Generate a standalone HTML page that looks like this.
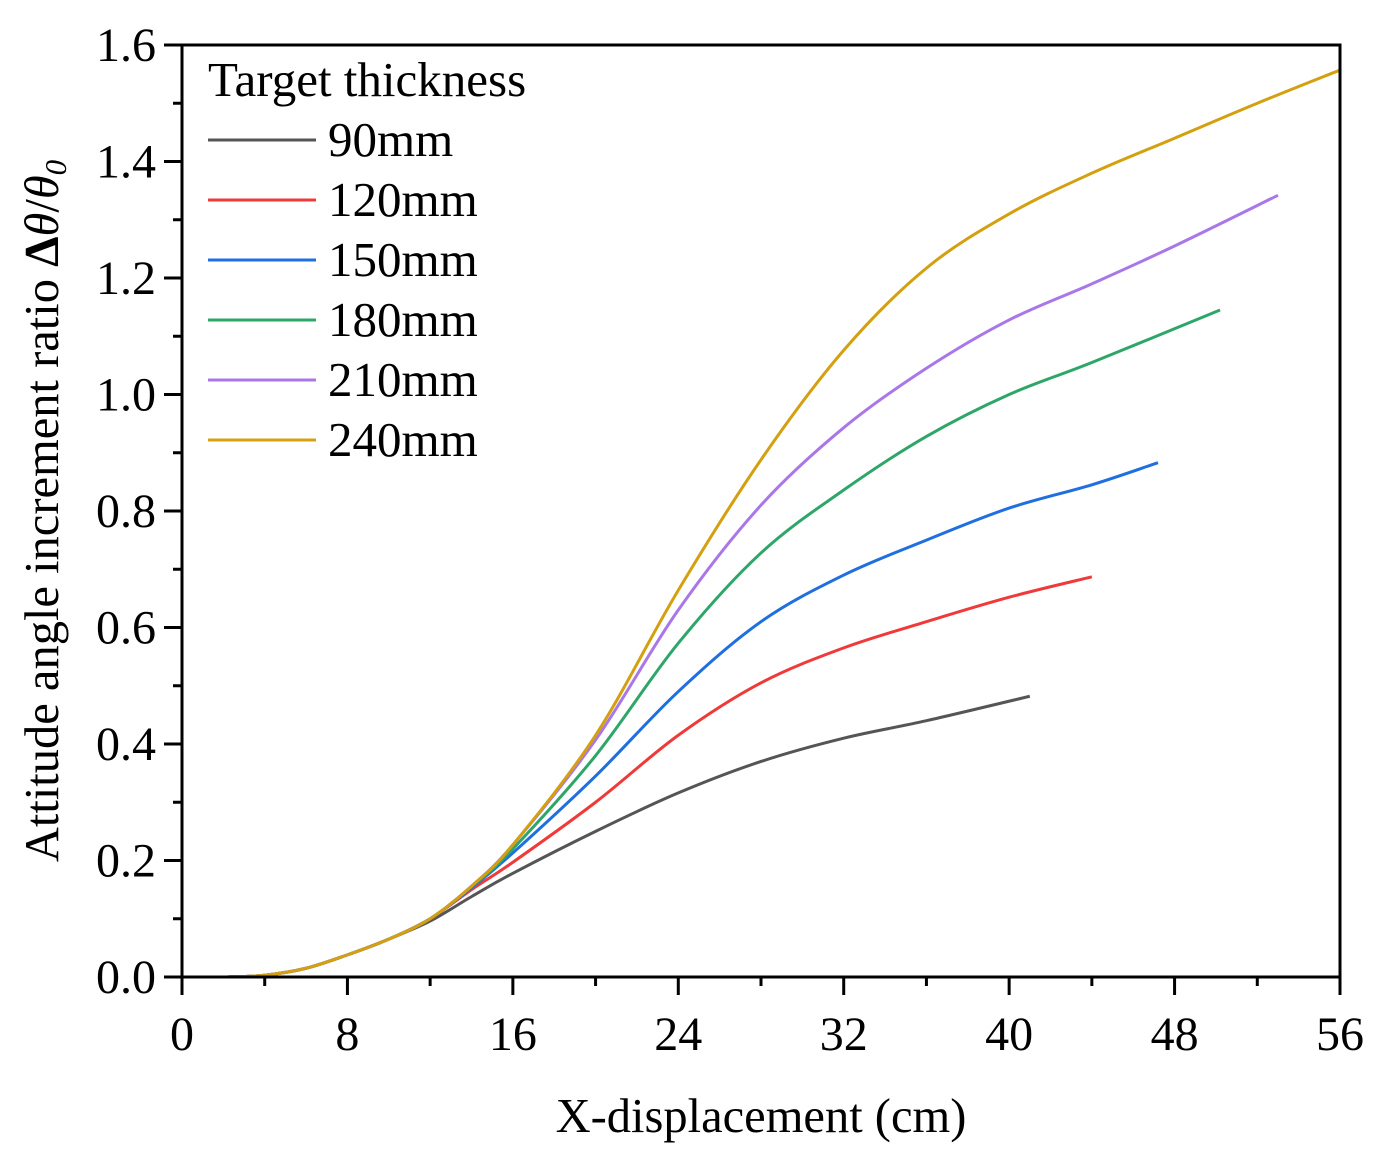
<!DOCTYPE html>
<html><head><meta charset="utf-8"><style>
body{margin:0;background:#fff}
svg{display:block;font-family:"Liberation Serif",serif}
</style></head><body>
<svg id="chart" width="1383" height="1157" viewBox="0 0 1383 1157" xmlns="http://www.w3.org/2000/svg"></svg>
<script>
const xTicks=[0,8,16,24,32,40,48,56];
const yTicks=[0.0,0.2,0.4,0.6,0.8,1.0,1.2,1.4,1.6];
const seriesNames=["90mm","120mm","150mm","180mm","210mm","240mm"];
const seriesColors=["#555555","#f03a3a","#1f6fe0","#2ea66a","#a977e8","#d4a010"];
const lowX=[2.2,4,6,8,10,12];
const lowY=[0,0.003,0.015,0.038,0.065,0.1];
const x90=[14,16,20,24,28,32,36,41];
const y90=[0.138,0.178,0.25,0.316,0.37,0.41,0.44,0.482];
const x120=[14,16,20,24,28,32,36,40,44];
const y120=[0.15,0.197,0.30,0.415,0.505,0.565,0.61,0.652,0.687];
const x150=[14,16,20,24,28,32,36,40,44,47.2];
const y150=[0.153,0.213,0.345,0.49,0.61,0.69,0.75,0.805,0.845,0.883];
const x180=[14,16,20,24,28,32,36,40,44,50.2];
const y180=[0.155,0.22,0.38,0.573,0.728,0.836,0.928,1.0,1.055,1.145];
const x210=[14,16,20,24,28,32,36,40,44,48,53];
const y210=[0.156,0.227,0.407,0.63,0.81,0.943,1.045,1.128,1.19,1.255,1.342];
const x240=[14,16,20,24,28,32,36,40,44,48,52,56];
const y240=[0.156,0.227,0.415,0.664,0.888,1.076,1.217,1.31,1.38,1.44,1.5,1.557];

const X0=182,X1=1340,Y0=977,Y1=45;
const sx=v=>X0+(v-0)/(56-0)*(X1-X0);
const sy=v=>Y0-(v-0)/(1.6-0)*(Y0-Y1);
const svg=document.getElementById('chart');
const NS="http://www.w3.org/2000/svg";
function mk(tag,attrs,parent){const e=document.createElementNS(NS,tag);for(const k in attrs)e.setAttribute(k,attrs[k]);(parent||svg).appendChild(e);return e;}

const xs=[x90,x120,x150,x180,x210,x240], ys=[y90,y120,y150,y180,y210,y240];
function path(pts){let d=`M${pts[0][0]},${pts[0][1]}`;for(let i=0;i<pts.length-1;i++){const p0=pts[Math.max(0,i-1)],p1=pts[i],p2=pts[i+1],p3=pts[Math.min(pts.length-1,i+2)];const c1=[p1[0]+(p2[0]-p0[0])/6,p1[1]+(p2[1]-p0[1])/6],c2=[p2[0]-(p3[0]-p1[0])/6,p2[1]-(p3[1]-p1[1])/6];d+=`C${c1[0]},${c1[1]} ${c2[0]},${c2[1]} ${p2[0]},${p2[1]}`;}return d;}
for(let s=0;s<6;s++){
  const pts=[];
  lowX.forEach((v,i)=>{let y=lowY[i];if(s===0&&v>=12)y*=0.96;pts.push([sx(v),sy(y)]);});
  xs[s].forEach((v,i)=>pts.push([sx(v),sy(ys[s][i])]));
  const p=mk('path',{d:path(pts),fill:'none',stroke:seriesColors[s],'stroke-width':3});
  
  
}

const f=mk('rect',{x:X0,y:Y1,width:X1-X0,height:Y0-Y1,fill:'none',stroke:'#000','stroke-width':3});


for(let v=0;v<=56;v+=4){const major=v%8===0;mk('line',{x1:sx(v),x2:sx(v),y1:Y0,y2:Y0+(major?18:9),stroke:'#000','stroke-width':3});}
xTicks.forEach(v=>{const t=mk('text',{x:sx(v),y:1050,'text-anchor':'middle','font-size':48});t.textContent=v;

});
for(let i=0;i<=16;i++){const v=i/10,major=i%2===0;mk('line',{x1:X0,x2:X0-(major?18:9),y1:sy(v),y2:sy(v),stroke:'#000','stroke-width':3});}
yTicks.forEach(v=>{const t=mk('text',{x:156,y:sy(v)+16,'text-anchor':'end','font-size':48});t.textContent=v.toFixed(1);

});
</script>
<svg style="position:absolute;left:0;top:0" width="1383" height="1157">
<text x="761" y="1132" text-anchor="middle" font-size="48.5" font-family="Liberation Serif">X-displacement (cm)</text>
<text transform="translate(58,511) rotate(-90)" text-anchor="middle" font-size="48.5" font-family="Liberation Serif">Attitude angle increment ratio <tspan font-weight="bold">Δ</tspan><tspan font-style="italic">θ</tspan>/<tspan font-style="italic">θ</tspan><tspan font-style="italic" font-size="31" dy="8">0</tspan></text>
<g font-family="Liberation Serif" font-size="49">
<text x="208" y="96">Target thickness</text>
<g><line x1="208" x2="316" y1="140" y2="140" stroke="#555555" stroke-width="3"/><text x="328" y="156">90mm</text></g>
<g><line x1="208" x2="316" y1="200" y2="200" stroke="#f03a3a" stroke-width="3"/><text x="328" y="216">120mm</text></g>
<g><line x1="208" x2="316" y1="260" y2="260" stroke="#1f6fe0" stroke-width="3"/><text x="328" y="276">150mm</text></g>
<g><line x1="208" x2="316" y1="320" y2="320" stroke="#2ea66a" stroke-width="3"/><text x="328" y="336">180mm</text></g>
<g><line x1="208" x2="316" y1="380" y2="380" stroke="#a977e8" stroke-width="3"/><text x="328" y="396">210mm</text></g>
<g><line x1="208" x2="316" y1="440" y2="440" stroke="#d4a010" stroke-width="3"/><text x="328" y="456">240mm</text></g>
</g>
</svg>
</body></html>
